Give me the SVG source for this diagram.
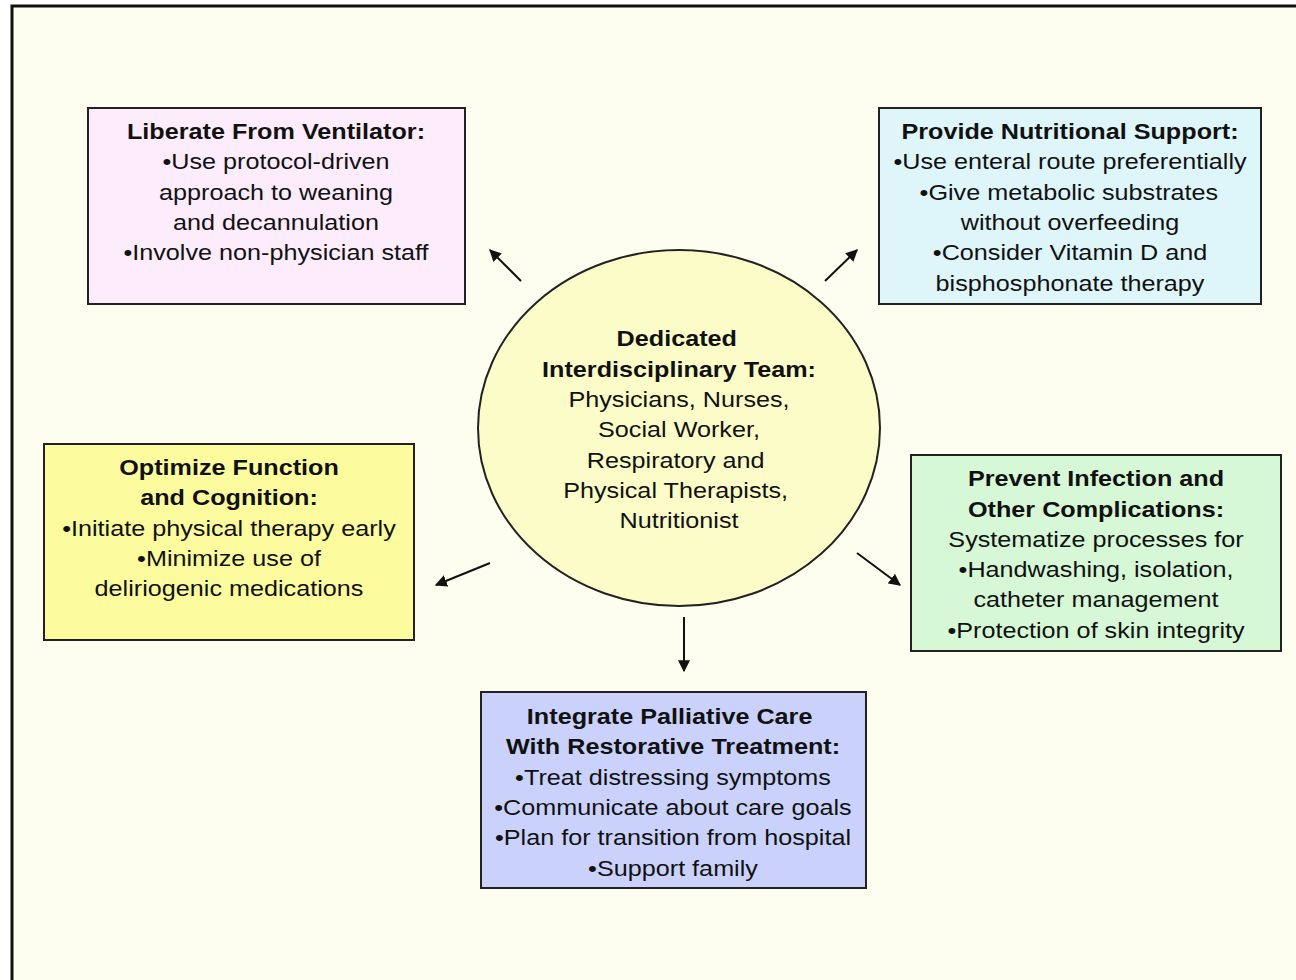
<svg xmlns="http://www.w3.org/2000/svg" width="1296" height="980" viewBox="0 0 1296 980">
<defs>
<style>
.t{font-family:"Liberation Sans",Arial,sans-serif;font-size:22.5px;fill:#111;text-anchor:middle}
.b{font-weight:bold}
.box{stroke:#222;stroke-width:2}
.con{stroke:#111;stroke-width:2;fill:none;marker-end:url(#ah)}
</style>
<marker id="ah" viewBox="0 0 10 10" refX="9" refY="5" markerWidth="6" markerHeight="6" orient="auto" markerUnits="strokeWidth">
<path d="M0,0 L10,5 L0,10 z" fill="#111"/>
</marker>
</defs>
<rect width="1296" height="980" fill="#ffffff"/>
<rect x="12" y="6" width="1300" height="990" fill="#fefef0" stroke="#111" stroke-width="3"/>

<g id="connectors">
<line class="con" x1="521" y1="281" x2="490" y2="250"/>
<line class="con" x1="825" y1="281" x2="857" y2="250"/>
<line class="con" x1="490" y1="563" x2="436" y2="585"/>
<line class="con" x1="857" y1="553" x2="900" y2="585"/>
<line class="con" x1="684" y1="617" x2="684" y2="671"/>
</g>

<g id="center">
<ellipse cx="679" cy="428" rx="201" ry="178" fill="#fcfcc8" stroke="#222" stroke-width="2"/>
<g transform="translate(679 0) scale(1.12 1)">
<text class="t b" x="-2" y="346">Dedicated</text>
<text class="t b" x="0" y="377">Interdisciplinary Team:</text>
<text class="t" x="0" y="407">Physicians, Nurses,</text>
<text class="t" x="0" y="437">Social Worker,</text>
<text class="t" x="-3" y="468">Respiratory and</text>
<text class="t" x="-3" y="498">Physical Therapists,</text>
<text class="t" x="0" y="528">Nutritionist</text>
</g>
</g>

<g id="ventilator">
<rect class="box" x="88" y="108" width="377" height="196" fill="#fcecfc"/>
<g transform="translate(276 0) scale(1.12 1)">
<text class="t b" x="0" y="139">Liberate From Ventilator:</text>
<text class="t" x="0" y="169">•Use protocol-driven</text>
<text class="t" x="0" y="200">approach to weaning</text>
<text class="t" x="0" y="230">and decannulation</text>
<text class="t" x="0" y="260">•Involve non-physician staff</text>
</g>
</g>

<g id="nutrition">
<rect class="box" x="879" y="108" width="382" height="196" fill="#def6fa"/>
<g transform="translate(1070 0) scale(1.12 1)">
<text class="t b" x="0" y="139">Provide Nutritional Support:</text>
<text class="t" x="0" y="169">•Use enteral route preferentially</text>
<text class="t" x="-1" y="200">•Give metabolic substrates</text>
<text class="t" x="0" y="230">without overfeeding</text>
<text class="t" x="0" y="260">•Consider Vitamin D and</text>
<text class="t" x="0" y="291">bisphosphonate therapy</text>
</g>
</g>

<g id="function">
<rect class="box" x="44" y="444" width="370" height="196" fill="#fcfc9e"/>
<g transform="translate(229 0) scale(1.12 1)">
<text class="t b" x="0" y="475">Optimize Function</text>
<text class="t b" x="0" y="505">and Cognition:</text>
<text class="t" x="0" y="536">•Initiate physical therapy early</text>
<text class="t" x="0" y="566">•Minimize use of</text>
<text class="t" x="0" y="596">deliriogenic medications</text>
</g>
</g>

<g id="infection">
<rect class="box" x="911" y="455" width="370" height="196" fill="#d6f8d6"/>
<g transform="translate(1096 0) scale(1.12 1)">
<text class="t b" x="0" y="486">Prevent Infection and</text>
<text class="t b" x="0" y="517">Other Complications:</text>
<text class="t" x="0" y="547">Systematize processes for</text>
<text class="t" x="0" y="577">•Handwashing, isolation,</text>
<text class="t" x="0" y="607">catheter management</text>
<text class="t" x="0" y="638">•Protection of skin integrity</text>
</g>
</g>

<g id="palliative">
<rect class="box" x="481" y="692" width="385" height="196" fill="#cad2fc"/>
<g transform="translate(673 0) scale(1.12 1)">
<text class="t b" x="-3" y="724">Integrate Palliative Care</text>
<text class="t b" x="0" y="754">With Restorative Treatment:</text>
<text class="t" x="0" y="785">•Treat distressing symptoms</text>
<text class="t" x="0" y="815">•Communicate about care goals</text>
<text class="t" x="0" y="845">•Plan for transition from hospital</text>
<text class="t" x="0" y="876">•Support family</text>
</g>
</g>
</svg>
